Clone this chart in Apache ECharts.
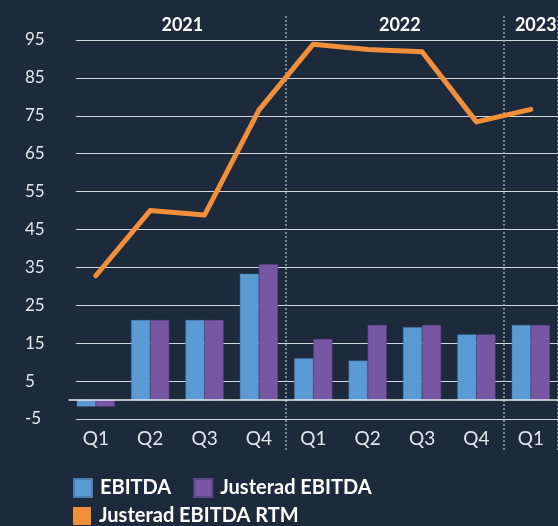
<!DOCTYPE html>
<html>
<head>
<meta charset="utf-8">
<script src="https://cdn.jsdelivr.net/npm/echarts@6/dist/echarts.min.js"></script>
<style>
  html, body { margin: 0; padding: 0; background: #1d2a3c; }
  #chart { width: 558px; height: 526px; }
</style>
</head>
<body>
<div id="chart"></div>
<script>
// data
const years = ['2021', '2021', '2021', '2021', '2022', '2022', '2022', '2022', '2023'];
const quarters = ['Q1', 'Q2', 'Q3', 'Q4', 'Q1', 'Q2', 'Q3', 'Q4', 'Q1'];
const ebitda = [-1.7, 21.1, 21.1, 33.3, 11.0, 10.4, 19.2, 17.3, 19.8];
const justeradEbitda = [-1.7, 21.1, 21.1, 35.8, 16.1, 19.8, 19.8, 17.3, 19.8];
const justeradRtm = [32.8, 50.0, 48.8, 76.5, 93.9, 92.5, 91.9, 73.4, 76.7];
const yTickLabels = ['-5', '5', '15', '25', '35', '45', '55', '65', '75', '85', '95'];

const categories = years.map((y, i) => y + ' ' + quarters[i]);

// year spans for the labels on top
const yearSpans = [];
years.forEach((y, i) => {
    const last = yearSpans[yearSpans.length - 1];
    if (last && last.year === y) last.to = categories[i];
    else yearSpans.push({ year: y, from: categories[i], to: categories[i] });
});

const labelColor = '#e4e6ea';
const chart = echarts.init(document.getElementById('chart'));

const legendText = { color: '#ffffff', fontSize: 20, fontWeight: 'bold', padding: [0, 0, 0, 3] };

const option = {
    backgroundColor: '#1d2a3c',
    textStyle: { fontFamily: 'Lato' },
    animation: false,
    grid: [
        { left: 68.6, right: -9, top: 40, bottom: 107 },
        { left: 76, right: 0, top: 40, bottom: 107 },
        { left: 68.6, right: -9, top: 16, bottom: 76 }
    ],
    legend: [
        {
            data: ['EBITDA', 'Justerad EBITDA'],
            left: 73, top: 478, padding: 0,
            icon: 'rect', itemWidth: 18, itemHeight: 18, itemGap: 22,
            textStyle: legendText
        },
        {
            data: ['Justerad EBITDA RTM'],
            left: 73, top: 506, padding: 0,
            icon: 'rect', itemWidth: 18, itemHeight: 18,
            textStyle: legendText
        }
    ],
    xAxis: [
        {
            type: 'category', gridIndex: 0, data: categories,
            axisLine: { show: false }, axisTick: { show: false },
            axisLabel: {
                color: labelColor, fontSize: 19, margin: 10,
                formatter: v => v.split(' ')[1]
            }
        },
        { type: 'value', gridIndex: 1, min: 0, max: 1, show: false },
        {
            type: 'category', gridIndex: 2, data: categories,
            axisLine: { show: false }, axisTick: { show: false }, axisLabel: { show: false },
            splitLine: {
                show: true,
                interval: (i) => i > 0 && years[i] !== years[i - 1],
                lineStyle: { color: '#9aa3ae', width: 1.5, type: [2, 2] }
            }
        }
    ],
    yAxis: [
        { type: 'value', gridIndex: 0, min: -5, max: 95, show: false },
        {
            type: 'value', gridIndex: 1, min: 0, max: 100, interval: 10,
            axisLine: { show: false }, axisTick: { show: false },
            axisLabel: {
                color: labelColor, fontSize: 17, align: 'left', margin: 51,
                formatter: v => yTickLabels[Math.round(v / 10)]
            },
            splitLine: { lineStyle: { color: '#d3d7dd', width: 1 } }
        },
        { type: 'value', gridIndex: 2, show: false }
    ],
    series: [
        {
            name: 'EBITDA', type: 'bar', xAxisIndex: 0, yAxisIndex: 0,
            data: ebitda, barGap: '0%', barCategoryGap: '30%',
            itemStyle: { color: '#5b9bd5', borderColor: '#4a7fb0', borderWidth: 0.5 },
            markLine: {
                silent: true, symbol: 'none', label: { show: false },
                lineStyle: { color: '#eef0f3', width: 1.5, type: 'solid' },
                data: [{ yAxis: 0 }]
            }
        },
        {
            name: 'Justerad EBITDA', type: 'bar', xAxisIndex: 0, yAxisIndex: 0,
            data: justeradEbitda,
            itemStyle: { color: '#7757a4', borderColor: '#5f4585', borderWidth: 0.5 }
        },
        {
            name: 'Justerad EBITDA RTM', type: 'line', xAxisIndex: 0, yAxisIndex: 0,
            data: justeradRtm, symbol: 'none', z: 5,
            itemStyle: { color: '#f28f3b' },
            lineStyle: { color: '#f28f3b', width: 5, cap: 'round', join: 'round' },
            markArea: {
                silent: true,
                itemStyle: { color: 'transparent' },
                label: {
                    position: 'top', distance: 6, offset: [5, 0],
                    color: '#ffffff', fontSize: 18, fontWeight: 'bold'
                },
                data: yearSpans.map(s => [
                    { name: s.year, xAxis: s.from, yAxis: 95 },
                    { xAxis: s.to, yAxis: 95 }
                ])
            }
        }
    ]
};
chart.setOption(option);
</script>
</body>
</html>
